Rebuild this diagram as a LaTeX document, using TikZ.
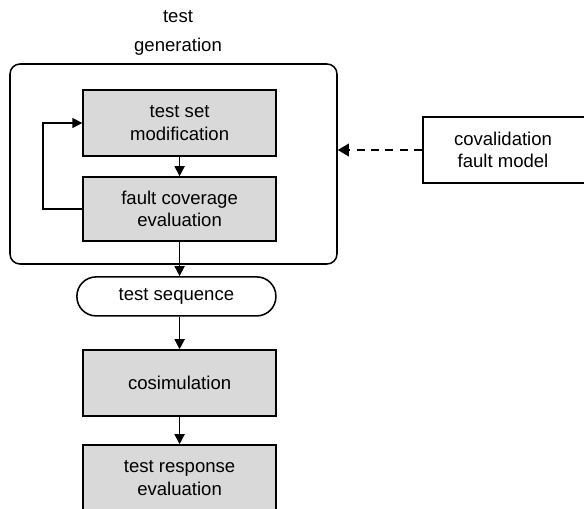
\documentclass[tikz,border=0pt]{standalone}
\usepackage{fontspec}
\setmainfont{Liberation Sans}
\usetikzlibrary{arrows.meta,positioning}
\definecolor{Stage}{HTML}{D9D9D9}
\tikzset{stage/.style={draw,line width=1.1pt,fill=Stage,align=center,minimum width=4.825cm,minimum height=1.65cm},flow/.style={-{Triangle[length=2.5mm,width=2.5mm]},line width=1.1pt}}

\begin{document}
\begin{tikzpicture}[font=\fontsize{13.2}{15.8}\selectfont]
\useasboundingbox (0,0) rectangle (14.6,-12.725);
\node[draw,line width=1.1pt,rounded corners=2.5mm,minimum width=8.175cm,minimum height=5cm] (gen) at (4.3375,-4.1) {};
\node[align=center] (title) at (4.45,-0.83) {test\\[5pt]generation};
\node[stage] (modify) at (4.49,-3.075) {test set\\modification};
\node[stage,minimum height=1.6cm] (coverage) at (4.49,-5.225) {fault coverage\\evaluation};
\node[draw,line width=1.1pt,rounded corners=4.8mm,minimum width=4.975cm,minimum height=0.975cm] (sequence) at (4.41,-7.41) {test sequence};
\node[stage] (cosim) at (4.49,-9.575) {cosimulation};
\node[stage] (response) at (4.49,-11.95) {test response\\evaluation};
\node[draw,line width=1.1pt,align=center,minimum width=4.2cm,minimum height=1.65cm] (model) at (12.675,-3.75) {\hspace*{-2mm}covalidation\\\hspace*{-2mm}fault model};
\coordinate (loop) at (1.075,-5.225);
\draw[flow] (modify) -- (coverage);
\draw[flow] (coverage.west) -- (loop) |- (modify.west);
\draw[flow] (coverage.south) -- (coverage.south |- sequence.north);
\draw[flow] (sequence.south -| cosim.north) -- (cosim.north);
\draw[flow] (cosim) -- (response);
\draw[-{Triangle[length=2.8mm,width=3.2mm]},line width=1.1pt,dashed,dash pattern=on 2mm off 1.6mm] (model.west) -- (gen.east |- model.west);
\end{tikzpicture}
\end{document}
